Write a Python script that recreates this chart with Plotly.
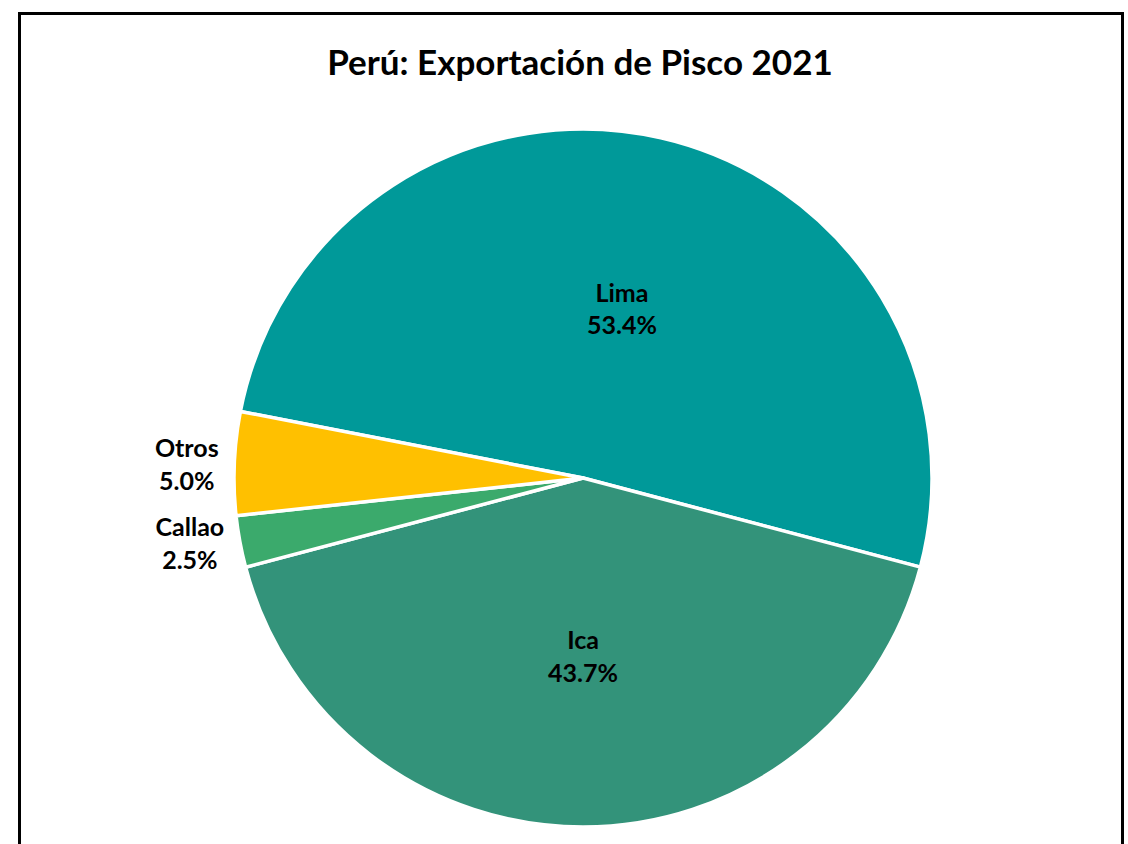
import plotly.graph_objects as go

# Data
regions = ["Lima", "Ica", "Callao", "Otros"]
shares = [53.4, 43.7, 2.5, 5.0]
colors = ["#009999", "#33937A", "#3BAA6C", "#FFC000"]
text_positions = ["inside", "inside", "outside", "outside"]
title_text = "Perú: Exportación de Pisco 2021"

W, H = 1128, 844

fig = go.Figure(
    go.Pie(
        labels=regions,
        values=shares,
        sort=False,
        direction="clockwise",
        rotation=-79,
        marker=dict(colors=colors, line=dict(color="white", width=3.5)),
        texttemplate="<b>%{label}</b><br><b>%{value:.1f}%</b>",
        textposition=text_positions,
        insidetextorientation="horizontal",
        textfont=dict(family="Lato", size=25, color="black"),
        outsidetextfont=dict(family="Lato", size=25, color="black"),
        insidetextfont=dict(family="Lato", size=25, color="black"),
        showlegend=False,
        hoverinfo="label+value",
        domain=dict(x=[(583 - 349) / W, (583 + 349) / W], y=[1 - 827 / H, 1 - 129 / H]),
    )
)

fig.update_layout(
    width=W,
    height=H,
    margin=dict(l=0, r=0, t=0, b=0),
    paper_bgcolor="white",
    plot_bgcolor="white",
    title=dict(
        text="<b>" + title_text + "</b>",
        x=580 / W,
        xanchor="center",
        y=1 - 63 / H,
        yanchor="middle",
        font=dict(family="Lato", size=35, color="black"),
    ),
    shapes=[
        dict(
            type="rect",
            xref="paper",
            yref="paper",
            x0=19.5 / W,
            x1=1122.5 / W,
            y0=-0.05,
            y1=1 - 13.5 / H,
            line=dict(color="black", width=3),
            fillcolor="rgba(0,0,0,0)",
            layer="above",
        )
    ],
)

fig.write_html(
    "out.html",
    config={"displayModeBar": False},
    post_script="document.body.style.margin='0';document.body.style.overflow='hidden';",
)
